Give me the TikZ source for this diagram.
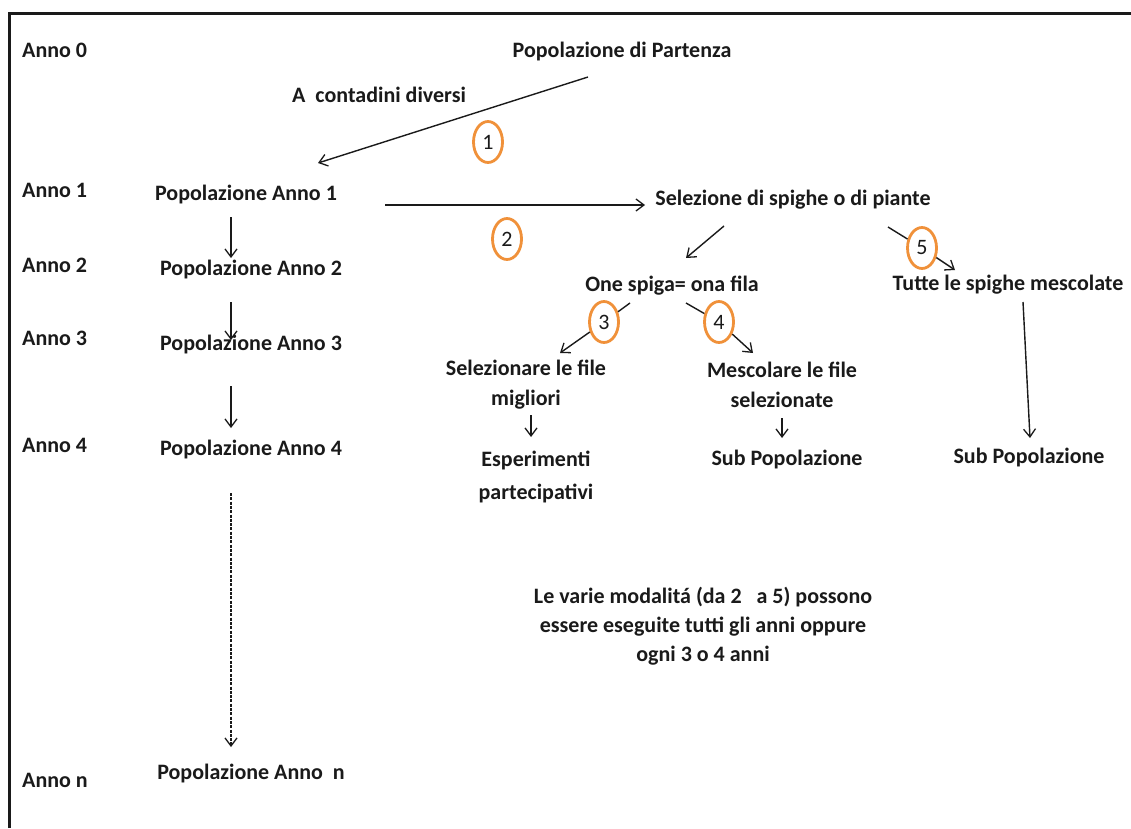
\documentclass[tikz,border=0pt]{standalone}
\usepackage{fontspec}
\setmainfont{Carlito}
\usetikzlibrary{arrows.meta,shapes.geometric}
\definecolor{ink}{HTML}{1A1A1A}
\definecolor{ring}{HTML}{F0913A}
\begin{document}
\begin{tikzpicture}[x=1pt,y=-1pt,
  lbl/.style={font=\fontsize{22}{30}\selectfont\bfseries, text=ink, inner sep=0pt},
  yr/.style={lbl, anchor=west},
  arr/.style={draw=ink, line width=1.4pt, -{Straight Barb[length=8pt,width=12pt,line width=1.3pt]}},
  ln/.style={draw=ink, line width=1.4pt},
  dsh/.style={arr, line width=1.1pt, dash pattern=on 3pt off 1.3pt},
  num/.style={draw=ring, line width=2.8pt, ellipse, minimum width=29pt, minimum height=41pt, inner sep=0pt, font=\fontsize{22}{26}\selectfont, text=ink}
]
\useasboundingbox (0,0) rectangle (1131,828);
\fill[white] (0,0) rectangle (1131,828);
% frame
\draw[ink, line width=3pt] (9,828) |- (1131,13);

% year labels
\node[yr] (a0) at (22,50) {Anno 0};
\node[yr] (a1) at (22,190) {Anno 1};
\node[yr] (a2) at (22,265) {Anno 2};
\node[yr] (a3) at (22,338) {Anno 3};
\node[yr] (a4) at (22,445) {Anno 4};
\node[yr] (an) at (22,780) {Anno n};

% main texts
\node[lbl] (pp) at (622,52) {Popolazione di Partenza};
\node[lbl, anchor=west] (cd) at (292,95) {A\ \ contadini diversi};
\node[lbl] (p1) at (246,195) {Popolazione Anno 1};
\node[lbl] (p2) at (251,270) {Popolazione Anno 2};
\node[lbl] (p3) at (251,345) {Popolazione Anno 3};
\node[lbl] (p4) at (251,450) {Popolazione Anno 4};
\node[lbl] (pn) at (251,773) {Popolazione Anno\ \ n};
\node[lbl] (sel) at (793,200) {Selezione di spighe o di piante};
\node[lbl] (one) at (672,286) {One spiga= ona fila};
\node[lbl] (tut) at (1008,285) {Tutte le spighe mescolate};
\node[lbl, align=center] (smig) at (526,385) {Selezionare le file\\migliori};
\node[lbl, align=center] (msel) at (782,385) {Mescolare le file\\selezionate};
\node[lbl, align=center, font=\fontsize{22}{33}\selectfont\bfseries] (esp) at (536,477) {Esperimenti\\partecipativi};
\node[lbl] (sub1) at (787,460) {Sub Popolazione};
\node[lbl] (sub2) at (1029,458) {Sub Popolazione};
\node[lbl, align=center, font=\fontsize{22}{29}\selectfont\bfseries] (note) at (703,626) {Le varie modalitá (da 2\ \ \ a 5) possono\\essere eseguite tutti gli anni oppure\\ogni 3 o 4 anni};

% numbered circles
\node[num] (c1) at (488,142) {1};
\node[num] (c2) at (507,239) {2};
\node[num] (c3) at (604,322) {3};
\node[num] (c4) at (719,322) {4};
\node[num] (c5) at (922,248) {5};

% connector end points
\coordinate (e1s) at (588,77);
\coordinate (e1t) at (318,163);
\coordinate (e2s) at (385,205);
\coordinate (e2t) at (645,205);
\coordinate (eos) at (724,226);
\coordinate (eot) at (686,258);
\coordinate (e5s) at (888,227);
\coordinate (e5t) at (955,270);
\coordinate (e3s) at (630,303);
\coordinate (e3t) at (560,353);
\coordinate (e4s) at (686,303);
\coordinate (e4t) at (753,353);
\coordinate (ets) at (1023,302);
\coordinate (ett) at (1030,438);
\coordinate (ems) at (531,415);
\coordinate (emt) at (531,437);
\coordinate (ess) at (782,418);
\coordinate (est) at (782,438);
\coordinate (l1s) at (231,217);
\coordinate (l1t) at (231,258);
\coordinate (l2s) at (231,302);
\coordinate (l2t) at (231,340);
\coordinate (l3s) at (231,386);
\coordinate (l3t) at (231,428);
\coordinate (l4s) at (231,493);
\coordinate (l4t) at (231,747);

% connectors
\draw[arr] (e1s) -- (e1t);
\draw[arr] (e2s) -- (e2t);
\draw[arr] (eos) -- (eot);
\draw[ln] (e5s) -- (c5);
\draw[arr] (c5) -- (e5t);
\draw[ln] (e3s) -- (c3);
\draw[arr] (c3) -- (e3t);
\draw[ln] (e4s) -- (c4);
\draw[arr] (c4) -- (e4t);
\draw[arr] (ets) -- (ett);
\draw[arr] (ems) -- (emt);
\draw[arr] (ess) -- (est);
\draw[arr] (l1s) -- (l1t);
\draw[arr] (l2s) -- (l2t);
\draw[arr] (l3s) -- (l3t);
\draw[dsh] (l4s) -- (l4t);
\end{tikzpicture}
\end{document}
